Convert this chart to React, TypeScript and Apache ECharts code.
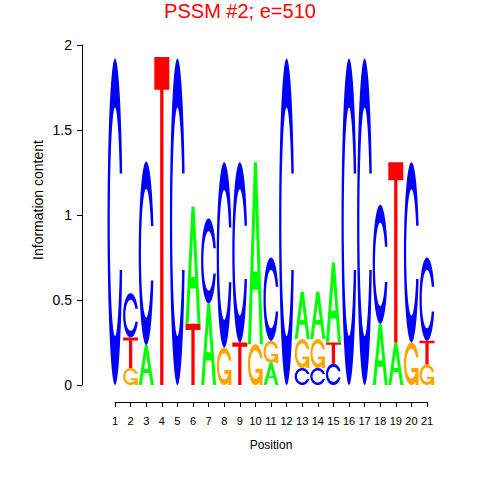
import React, { useEffect, useRef } from "react";
import * as echarts from "echarts";

// ---- Data ----
const POSITIONS = [1, 2, 3, 4, 5, 6, 7, 8, 9, 10, 11, 12, 13, 14, 15, 16, 17, 18, 19, 20, 21];
const A_HEIGHT = [0, 0, 0.235, 0, 0, 0.69, 0.48, 0, 0, 1.07, 0.13, 0, 0.28, 0.28, 0.47, 0, 0, 0.36, 0.25, 0, 0];
const C_HEIGHT = [1.92, 0.26, 1.08, 0, 1.92, 0, 0.5, 1.09, 1.06, 0, 0.49, 1.92, 0.1, 0.1, 0.125, 1.92, 1.92, 0.7, 0, 1.06, 0.49];
const G_HEIGHT = [0, 0.1, 0, 0, 0, 0, 0, 0.22, 0, 0.24, 0.13, 0, 0.17, 0.17, 0, 0, 0, 0, 0, 0.25, 0.12];
const T_HEIGHT = [0, 0.18, 0, 1.93, 0, 0.36, 0, 0, 0.25, 0, 0, 0, 0, 0, 0.125, 0, 0, 0, 1.06, 0, 0.14];
const LETTERS = ["A", "C", "G", "T"];
const LETTER_COLORS = ["#00FF00", "#0000FF", "#FFA500", "#FF0000"];
const TITLE = "PSSM #2; e=510";
const X_NAME = "Position";
const Y_NAME = "Information content";

// ---- Glyph outlines (unit box, y up) ----
type Pt = [number, number];
const linspace = (a: number, b: number, n: number) =>
  Array.from({ length: n }, (_, i) => a + ((b - a) * i) / (n - 1));
const signedArea = (p: Pt[]) => {
  let s = 0;
  for (let i = 0; i < p.length; i++) {
    const j = (i + 1) % p.length;
    s += p[i][0] * p[j][1] - p[j][0] * p[i][1];
  }
  return s / 2;
};
const orient = (p: Pt[], positive: boolean): Pt[] =>
  signedArea(p) > 0 === positive ? p : p.slice().reverse();
const toPath = (polys: Pt[][]) =>
  polys
    .map(
      (p) =>
        "M" +
        p.map(([x, y]) => `${(x * 100).toFixed(2)} ${((1 - y) * 100).toFixed(2)}`).join("L") +
        "Z"
    )
    .join(" ");

function cOutline(): Pt[] {
  const N = 40;
  const a1 = linspace(0.3 + Math.PI / 2, Math.PI, N);
  const a2 = linspace(Math.PI, 1.5 * Math.PI, N);
  const xl1 = a1.map((a) => 0.5 + 0.5 * Math.sin(a));
  const yl1 = a1.map((a) => 0.5 + 0.5 * Math.cos(a));
  const xl2 = a2.map((a) => 0.5 + 0.5 * Math.sin(a));
  const yl2 = a2.map((a) => 0.5 + 0.5 * Math.cos(a));
  const xl = [...xl1, ...xl2];
  const yl = [...yl1, ...yl2];
  const xs = [...xl, ...xl.slice().reverse()];
  const ys = [...yl, ...yl.slice().reverse().map((y) => 1 - y)];
  const maxY = Math.max(...yl1);
  let xi1 = a1.map((a) => 0.5 + 0.35 * Math.sin(a));
  let yi1 = a1.map((a) => 0.5 + 0.35 * Math.cos(a));
  const keep = yi1.map((y) => y <= maxY);
  xi1 = xi1.filter((_, i) => keep[i]);
  yi1 = yi1.filter((_, i) => keep[i]);
  yi1[0] = maxY;
  const xi2 = a2.map((a) => 0.5 + 0.35 * Math.sin(a));
  const yi2 = a2.map((a) => 0.5 + 0.35 * Math.cos(a));
  const xi = [...xi1, ...xi2];
  const yi = [...yi1, ...yi2];
  const x1 = [...xi, ...xi.slice().reverse()];
  const y1 = [...yi, ...yi.slice().reverse().map((y) => 1 - y)];
  const X = [...xs, ...x1.slice().reverse()];
  const Y = [...ys, ...y1.slice().reverse()];
  return X.map((x, i) => [x, Y[i]] as Pt);
}

const C_POLY = orient(cOutline(), true);
const R1 = Math.max(...C_POLY.map((p) => p[0]));
const G_BAR: Pt[] = orient(
  [
    [R1, 0.4],
    [0.5, 0.4],
    [0.5, 0.3],
    [R1 - 0.2, 0.3],
    [R1 - 0.2, 0],
    [R1, 0],
  ],
  true
);
const A_OUTER: Pt[] = orient(
  [
    [0, 0],
    [0.4, 1],
    [0.6, 1],
    [1, 0],
    [0.8, 0],
    [0.68, 0.3],
    [0.32, 0.3],
    [0.2, 0],
  ],
  true
);
const A_HOLE: Pt[] = orient(
  [
    [0.36, 0.4],
    [0.5, 0.75],
    [0.64, 0.4],
  ],
  false
);
const T_POLY: Pt[] = orient(
  [
    [0, 1],
    [1, 1],
    [1, 0.9],
    [0.61, 0.9],
    [0.61, 0],
    [0.39, 0],
    [0.39, 0.9],
    [0, 0.9],
  ],
  true
);
const LETTER_PATHS = [
  toPath([A_OUTER, A_HOLE]),
  toPath([C_POLY]),
  toPath([C_POLY, G_BAR]),
  toPath([T_POLY]),
];

const HALF_W = 0.48;
const FONT = "'Liberation Sans', Arial, Helvetica, sans-serif";

function buildStacks() {
  const heights = [A_HEIGHT, C_HEIGHT, G_HEIGHT, T_HEIGHT];
  const out: number[][] = [];
  POSITIONS.forEach((pos, i) => {
    const items = heights
      .map((h, li) => ({ li, h: h[i] }))
      .filter((d) => d.h > 0)
      .sort((a, b) => a.h - b.h);
    let acc = 0;
    items.forEach((d) => {
      out.push([pos, acc, acc + d.h, d.li]);
      acc += d.h;
    });
  });
  return out;
}

export default function App() {
  const ref = useRef<HTMLDivElement>(null);
  useEffect(() => {
    if (!ref.current) return;
    const chart = echarts.init(ref.current, undefined, { renderer: "svg" });
    const data = buildStacks();
    chart.setOption({
      animation: false,
      backgroundColor: "#ffffff",
      grid: {
        left: 115,
        top: 45,
        width: 312,
        height: 340,
        containLabel: false,
        outerBoundsMode: "none",
      },
      xAxis: {
        type: "value",
        min: 1,
        max: 21,
        interval: 1,
        offset: 17,
        splitLine: { show: false },
        axisLine: { show: true, onZero: false, lineStyle: { color: "#000", width: 1 } },
        axisTick: { show: true, length: 5, lineStyle: { color: "#000" } },
        axisLabel: { margin: 13, fontSize: 11, color: "#000", fontFamily: FONT },
      },
      yAxis: {
        type: "value",
        min: 0,
        max: 2,
        interval: 0.5,
        offset: 33,
        splitLine: { show: false },
        axisLine: { show: true, onZero: false, lineStyle: { color: "#000", width: 1 } },
        axisTick: { show: true, length: 5, lineStyle: { color: "#000" } },
        axisLabel: { margin: 10, fontSize: 14, color: "#000", fontFamily: FONT },
      },
      series: [
        {
          type: "custom",
          clip: false,
          encode: { x: 0, y: [1, 2] },
          data,
          renderItem: (_params: any, api: any) => {
            const pos = api.value(0);
            const y0 = api.value(1);
            const y1 = api.value(2);
            const li = api.value(3);
            const tl = api.coord([pos - HALF_W, y1]);
            const br = api.coord([pos + HALF_W, y0]);
            return {
              type: "path",
              x: tl[0],
              y: tl[1],
              scaleX: (br[0] - tl[0]) / 100,
              scaleY: (br[1] - tl[1]) / 100,
              shape: { pathData: LETTER_PATHS[li] },
              style: { fill: LETTER_COLORS[li], stroke: null },
            };
          },
        },
      ],
      graphic: [
        {
          type: "text",
          x: 240,
          y: 1,
          style: {
            text: TITLE,
            fill: "#FF0000",
            fontSize: 20,
            fontFamily: FONT,
            textAlign: "center",
            textVerticalAlign: "top",
          },
        },
        {
          type: "text",
          x: 271,
          y: 439,
          style: {
            text: X_NAME,
            fill: "#000",
            fontSize: 12,
            fontFamily: FONT,
            textAlign: "center",
            textVerticalAlign: "top",
          },
        },
        {
          type: "text",
          x: 38,
          y: 200,
          rotation: Math.PI / 2,
          style: {
            text: Y_NAME,
            fill: "#000",
            fontSize: 14,
            fontFamily: FONT,
            textAlign: "center",
            textVerticalAlign: "middle",
          },
        },
      ],
    });
    return () => chart.dispose();
  }, []);
  return (
    <div
      ref={ref}
      style={{ position: "absolute", left: 0, top: 0, width: 480, height: 480 }}
    />
  );
}
